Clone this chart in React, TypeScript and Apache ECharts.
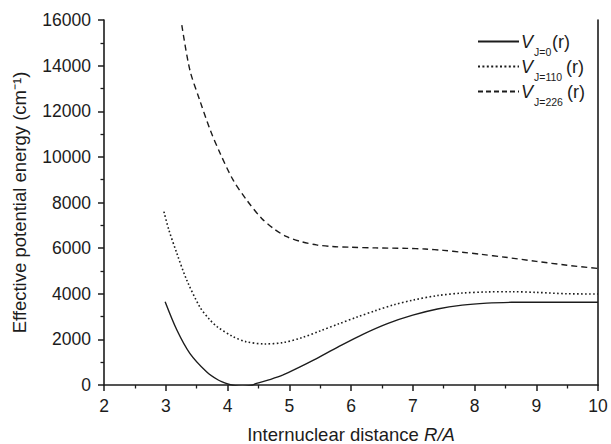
import React, { useEffect, useRef } from "react";
import * as echarts from "echarts";

const xTicks = [2, 3, 4, 5, 6, 7, 8, 9, 10];
const yTicks = [0, 2000, 4000, 6000, 8000, 10000, 12000, 14000, 16000];

const seriesNames = ["J=0", "J=110", "J=226"];

const j0: [number, number][] = [
  [2.99, 3650], [3.18, 2410], [3.39, 1390], [3.66, 585], [3.85, 220], [3.99, 60],
  [4.1, -20], [4.25, -60], [4.4, -10], [4.47, 70], [4.7, 250], [4.9, 440], [5.15, 760],
  [5.4, 1100], [5.8, 1680], [6.2, 2230], [6.6, 2700], [7.0, 3060], [7.4, 3330],
  [7.8, 3500], [8.2, 3590], [8.6, 3625], [9.0, 3630], [9.5, 3630], [10, 3630],
];

const j110: [number, number][] = [
  [2.97, 7600], [3.05, 6800], [3.18, 5770], [3.34, 4600], [3.55, 3430], [3.7, 2900],
  [3.83, 2560], [4.09, 2120], [4.3, 1900], [4.6, 1800], [4.9, 1860], [5.2, 2070],
  [5.5, 2370], [5.8, 2680], [6.1, 2980], [6.4, 3260], [6.7, 3520], [7.0, 3720],
  [7.4, 3920], [7.8, 4030], [8.2, 4080], [8.6, 4090], [9.0, 4060], [9.5, 4000], [10, 3990],
];

const j226: [number, number][] = [
  [3.26, 15780], [3.39, 13810], [3.55, 12490], [3.72, 11180], [3.88, 10160],
  [4.09, 8990], [4.31, 8110], [4.55, 7310], [4.75, 6850], [4.96, 6500], [5.2, 6280],
  [5.44, 6140], [5.7, 6070], [5.98, 6040], [6.4, 6010], [6.9, 5990], [7.2, 5960],
  [7.5, 5900], [7.8, 5820], [8.1, 5730], [8.5, 5600], [9.0, 5420], [9.5, 5250],
  [10, 5110],
];

const FONT = "'Liberation Sans', Arial, sans-serif";
const INK = "#1c1c1c";

export default function App() {
  const ref = useRef<HTMLDivElement>(null);
  useEffect(() => {
    if (!ref.current) return;
    const chart = echarts.init(ref.current, undefined, { renderer: "svg" });
    const axisLine = { show: true, lineStyle: { color: INK, width: 1.6 } };
    const lineTypes: any[] = ["solid", [1.6, 2.4], [6, 4]];
    const legendDash: any[] = [null, [2, 2.4], [5, 3]];
    const widths = [1.4, 1.6, 1.4];
    const datas = [j0, j110, j226];

    // custom legend built from the series names
    const rowY = [41.5, 66.5, 91.5];
    const subX = [552, 566, 567];
    const legendEls: any[] = [];
    seriesNames.forEach((n, i) => {
      legendEls.push({
        type: "line",
        shape: { x1: 478, y1: rowY[i], x2: 519, y2: rowY[i] },
        style: { stroke: INK, lineWidth: 1.8, lineDash: legendDash[i] || undefined },
      });
      legendEls.push({
        type: "text",
        x: 521,
        y: rowY[i],
        style: { text: "V", font: `italic 18px ${FONT}`, fill: INK, verticalAlign: "middle" },
      });
      legendEls.push({
        type: "text",
        x: 534,
        y: rowY[i] + 10,
        style: { text: n, font: `10.5px ${FONT}`, fill: INK, verticalAlign: "middle" },
      });
      legendEls.push({
        type: "text",
        x: subX[i],
        y: rowY[i] + 0.5,
        style: { text: "(r)", font: `18px ${FONT}`, fill: INK, verticalAlign: "middle" },
      });
    });

    chart.setOption({
      animation: false,
      backgroundColor: "#fff",
      textStyle: { fontFamily: FONT },
      grid: {
        left: 104,
        right: 13,
        top: 20,
        bottom: 59,
        containLabel: false,
        outerBoundsMode: "none",
      },
      graphic: legendEls,
      xAxis: {
        type: "value",
        min: 2,
        max: 10,
        interval: 1,
        name: "Internuclear distance {i|R/A}",
        nameLocation: "middle",
        nameGap: 40,
        nameTextStyle: {
          fontSize: 18.5,
          lineHeight: 18,
          color: INK,
          fontFamily: FONT,
          rich: {
            i: { fontStyle: "italic", fontSize: 18.5, lineHeight: 18, color: INK, fontFamily: FONT },
          },
        },
        axisLine,
        axisTick: { show: true, inside: false, length: 6, lineStyle: { color: INK, width: 1.5 } },
        minorTick: { show: true, splitNumber: 2, length: 3.5, lineStyle: { color: INK, width: 1.3 } },
        splitLine: { show: false },
        minorSplitLine: { show: false },
        axisLabel: {
          fontSize: 17.5,
          color: INK,
          margin: 12,
          fontFamily: FONT,
          formatter: (v: number) => (xTicks.includes(v) ? String(v) : ""),
        },
      },
      yAxis: [
        {
          type: "value",
          min: 0,
          max: 16000,
          interval: 2000,
          name: "Effective potential energy (cm⁻¹)",
          nameLocation: "middle",
          nameGap: 75,
          nameTextStyle: { fontSize: 18.5, color: INK, fontFamily: FONT },
          axisLine,
          axisTick: { show: true, inside: false, length: 6, lineStyle: { color: INK, width: 1.5 } },
          minorTick: { show: true, splitNumber: 2, length: 3.5, lineStyle: { color: INK, width: 1.3 } },
          splitLine: { show: false },
          minorSplitLine: { show: false },
          axisLabel: {
            fontSize: 17.5,
            color: INK,
            margin: 13,
            fontFamily: FONT,
            formatter: (v: number) => (yTicks.includes(v) ? String(v) : ""),
          },
        },
        {
          type: "value",
          position: "right",
          min: 0,
          max: 16000,
          interval: 2000,
          axisLine,
          axisTick: { show: false },
          axisLabel: { show: false },
          splitLine: { show: false },
        },
      ],
      series: datas.map((d, i) => ({
        name: seriesNames[i],
        type: "line",
        data: d,
        smooth: 0.3,
        showSymbol: false,
        symbol: "none",
        clip: true,
        lineStyle: { color: INK, width: widths[i], type: lineTypes[i] },
        z: 3,
      })),
    });
    return () => chart.dispose();
  }, []);
  return (
    <div
      ref={ref}
      style={{ position: "fixed", left: 0, top: 0, width: 611, height: 444 }}
    />
  );
}
